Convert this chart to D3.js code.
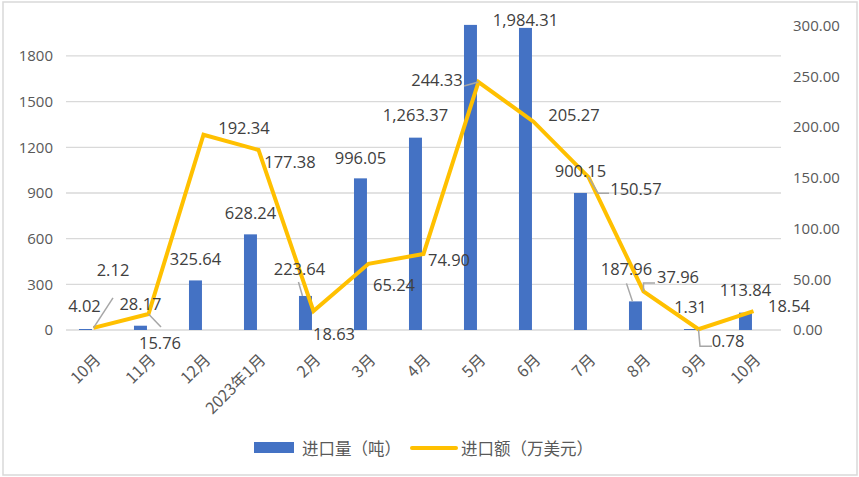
<!DOCTYPE html>
<html><head><meta charset="utf-8">
<script src="https://cdn.jsdelivr.net/npm/d3@7"></script>
<style>
html,body{margin:0;padding:0;background:#fff;}
svg{display:block;}
</style></head>
<body>
<svg id="chart" width="859" height="477"></svg>
<script>
// ---- data ----
const categories = ["10月","11月","12月","2023年1月","2月","3月","4月","5月","6月","7月","8月","9月","10月"];
const volume = [4.02, 28.17, 325.64, 628.24, 223.64, 996.05, 1263.37, 2004, 1984.31, 900.15, 187.96, 1.31, 113.84]; // 进口量（吨）
const volumeShowLabel = [true,true,true,true,true,true,true,false,true,true,true,true,true];
const amount = [2.12, 15.76, 192.34, 177.38, 18.63, 65.24, 74.90, 244.33, 205.27, 150.57, 37.96, 0.78, 18.54]; // 进口额（万美元）
const leftTicks = [0, 300, 600, 900, 1200, 1500, 1800];
const rightTicks = [0, 50, 100, 150, 200, 250, 300];
const seriesNames = ["进口量（吨）", "进口额（万美元）"];

// ---- label layout (offsets relative to marks) ----
const barLabelOff = [[-1,-24],[0,-22],[0,-22],[0,-22],[-6,-27],[0,-21],[0,-23],[0,-22],[0,-8],[0,-22],[-9,-33],[0,-23],[0,-23]];
const lineLabelOff = [[19.5,-58],[11.5,28],[40.5,-7],[31.5,12],[20.5,22],[25.5,21],[25.5,6],[-41.5,-3],[40.5,-7],[47.5,11],[34.5,-14.5],[29.5,11],[35.5,-6]];
// leader polylines: points relative to label centre (start is the mark)
const barLeaders = {4: [[-1,13]], 10: [[0,15]]};
const lineLeaders = {0: [[0,28]], 1: [[1,-15]], 7: [[27,7]], 9: [[-38,5],[-27,5]], 10: [[-34.5,6],[-23,6]], 11: [[-28,6],[-16,6]]};

const W = 859, H = 477;
const plot = {left: 66, right: 781, top: 25.5, bottom: 330};
const svg = d3.select("#chart");

const numFont = "'Open Sans', 'Liberation Sans', sans-serif";
const cjkFont = "'Noto Sans CJK SC', sans-serif";

// border
svg.append("rect").attr("x",3).attr("y",2).attr("width",854).attr("height",473)
  .attr("fill","#fff").attr("stroke","#d9d9d9").attr("stroke-width",1.5);

const x = d3.scaleBand().domain(d3.range(categories.length)).range([plot.left, plot.right]).padding(0);
const yL = d3.scaleLinear().domain([0,2000]).range([plot.bottom, plot.top]);
const yR = d3.scaleLinear().domain([0,300]).range([plot.bottom, plot.top]);
const bw = x.bandwidth();

// gridlines
svg.append("g").selectAll("line").data(leftTicks).join("line")
  .attr("x1", plot.left).attr("x2", plot.right)
  .attr("y1", d => yL(d)).attr("y2", d => yL(d))
  .attr("stroke", "#d9d9d9").attr("stroke-width", 1.3);

// left axis
const gL = svg.append("g").attr("transform", `translate(${plot.left},0)`)
  .call(d3.axisLeft(yL).tickValues(leftTicks).tickSize(0).tickPadding(13).tickFormat(d3.format("d")));
gL.select(".domain").remove();
gL.selectAll("text").attr("font-family", numFont).attr("font-size", 15).attr("fill", "#595959");

// right axis
const gR = svg.append("g").attr("transform", `translate(${plot.right},0)`)
  .call(d3.axisRight(yR).tickValues(rightTicks).tickSize(0).tickPadding(12).tickFormat(d3.format(".2f")));
gR.select(".domain").remove();
gR.selectAll("text").attr("font-family", numFont).attr("font-size", 15).attr("fill", "#595959");

// x axis labels
const gX = svg.append("g").attr("transform", `translate(0,${plot.bottom})`)
  .call(d3.axisBottom(x).tickSize(0).tickFormat(i => categories[i]));
gX.select(".domain").remove();
gX.selectAll("text")
  .attr("font-family", cjkFont).attr("font-size", 16).attr("fill", "#595959")
  .attr("text-anchor", "end")
  .attr("transform", "translate(4,27) rotate(-45)")
  .attr("dy", "0.35em").attr("y", 0).attr("x", 0);

// bars
const barX = i => x(i) + bw * 0.236;
const barW = bw * 0.236;
svg.append("g").selectAll("rect").data(volume).join("rect")
  .attr("x", (d,i) => barX(i)).attr("width", barW)
  .attr("y", d => Math.min(yL(d), plot.bottom - 1)).attr("height", d => Math.max(plot.bottom - yL(d), 1))
  .attr("fill", "#4472C4");

// line
const lx = i => x(i) + bw / 2;
svg.append("path").datum(amount)
  .attr("d", d3.line().x((d,i) => lx(i)).y(d => yR(d)))
  .attr("fill", "none").attr("stroke", "#FFC000").attr("stroke-width", 4)
  .attr("stroke-linejoin", "miter");

// leaders
const leaderG = svg.append("g").attr("fill","none").attr("stroke","#a6a6a6").attr("stroke-width",1.5);
Object.entries(barLeaders).forEach(([k, pts]) => {
  const i = +k;
  const mx = barX(i) + barW/2 - 3, my = yL(volume[i]);
  const cx = mx + 3 + barLabelOff[i][0], cy = my + barLabelOff[i][1];
  const p = [[mx, my]].concat(pts.map(q => [cx + q[0], cy + q[1]]));
  leaderG.append("path").attr("d", d3.line()(p));
});
Object.entries(lineLeaders).forEach(([k, pts]) => {
  const i = +k;
  const mx = lx(i), my = yR(amount[i]);
  const cx = mx + lineLabelOff[i][0], cy = my + lineLabelOff[i][1];
  const p = [[mx, my]].concat(pts.map(q => [cx + q[0], cy + q[1]]));
  leaderG.append("path").attr("d", d3.line()(p));
});

// data labels
const fmt = d3.format(",.2f");
svg.append("g").selectAll("text").data(volume.map((v,i)=>({v,i})).filter(d => volumeShowLabel[d.i])).join("text")
  .attr("x", d => barX(d.i) + barW/2 + barLabelOff[d.i][0])
  .attr("y", d => yL(d.v) + barLabelOff[d.i][1])
  .attr("text-anchor","middle").attr("dominant-baseline","central")
  .attr("font-family", numFont).attr("font-size", 16.5).attr("fill","#404040")
  .text(d => fmt(d.v));
svg.append("g").selectAll("text").data(amount).join("text")
  .attr("x", (d,i) => lx(i) + lineLabelOff[i][0])
  .attr("y", (d,i) => yR(d) + lineLabelOff[i][1])
  .attr("text-anchor","middle").attr("dominant-baseline","central")
  .attr("font-family", numFont).attr("font-size", 16.5).attr("fill","#404040")
  .text(d => fmt(d));

// legend
const lg = svg.append("g");
lg.append("rect").attr("x",254).attr("y",442).attr("width",40).attr("height",11).attr("fill","#4472C4");
lg.append("text").attr("x",302).attr("y",448).attr("dominant-baseline","central")
  .attr("font-family", cjkFont).attr("font-size",16.5).attr("fill","#595959").text(seriesNames[0]);
lg.append("line").attr("x1",412).attr("x2",456).attr("y1",448).attr("y2",448)
  .attr("stroke","#FFC000").attr("stroke-width",4).attr("stroke-linecap","round");
lg.append("text").attr("x",461).attr("y",448).attr("dominant-baseline","central")
  .attr("font-family", cjkFont).attr("font-size",16.5).attr("fill","#595959").text(seriesNames[1]);
</script>
</body></html>
